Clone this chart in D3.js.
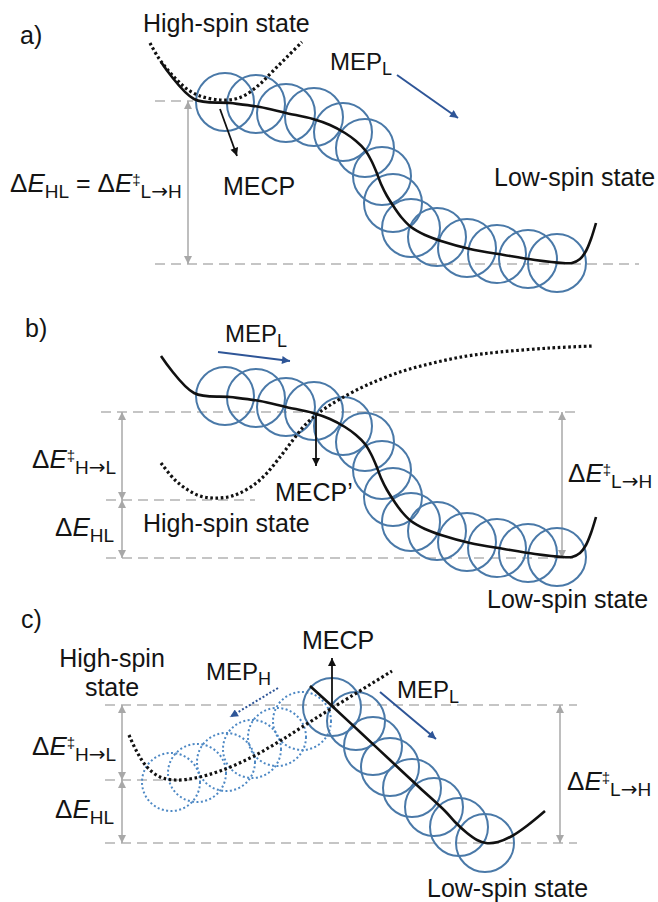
<!DOCTYPE html>
<html>
<head>
<meta charset="utf-8">
<script src="https://cdn.jsdelivr.net/npm/d3@7/dist/d3.min.js"></script>
<style>
  html, body { margin: 0; padding: 0; background: #fff; }
  svg text { font-family: "Liberation Sans", Arial, Helvetica, sans-serif; fill: #141414; }
</style>
</head>
<body>
<svg id="fig" width="658" height="902"></svg>
<script>
// ---- potential energy profiles: [reaction coordinate, energy] ----
// low-spin surface for panels a) and b)
const lowSpinAB = [[61,202],[94,165],[130,161],[160,157],[186,151],[213,145],[230,139],[245,131],
  [256,123],[265,114],[271,104],[276,93],[281,80],[287,68],[294,57],[302,46],[311,37],[325,29],
  [341,23],[370,15],[404,9],[435,4],[463,1],[472,1],[480,5],[486,13],[491,25],[496,41]];
// high-spin surfaces
const highSpinA = [[50,221],[58,207],[67,195],[77,184],[87,175],[100,168],[120,164],[135,165],
  [147,170],[160,180],[173,193],[187,207],[202,222]];
const highSpinB = [[61,95],[75,78],[88,68],[100,62],[113,60],[128,61],[140,65],[155,74],[167,85],
  [180,101],[193,118],[205,133],[220,146],[240,159],[267,173],[300,186],[333,195],[367,202],
  [400,206],[450,210],[493,212]];
const lowSpinC = [[210,157],[232,137],[260,111],[290,83],[320,55],[345,32],[355,21],[367,10],
  [377,3],[386,0],[398,1],[412,7],[428,18],[445,32]];
const highSpinC = [[29,108],[37,91],[47,76],[60,66],[75,63],[95,65],[120,72],[150,85],[180,102],
  [213,123],[250,146],[292,172]];

// sampled geometries along the minimum energy paths
const mepAB = [[125,162],[156,160],[186,151],[214,147],[243,132],[265,116],[282,88],[293,61],
  [311,36],[337,27],[367,16],[397,10],[428,5],[457,1]];
const mepLC = [[232,136],[256,122],[273,97],[290,76],[312,55],[334,36],[359,16],[385,0]];
const mepHC = [[71,61],[97,70],[126,81],[152,94],[177,106],[202,122]];

// energy levels (reaction-coordinate span, energy)
const levelsA = [[55,93,163],[55,539,0]];
const levelsB = [[1,475,146],[6,155,58],[6,473,0]];
const levelsC = [[5,477,138],[5,90,63],[5,477,0]];

// energy gaps drawn as double arrows: [coordinate, E from, E to]
const gapsA = [[88,163,0]];
const gapsB = [[22,146,58],[22,58,0],[462,146,0]];
const gapsC = [[22,138,63],[22,63,0],[460,138,0]];

// direction arrows: [q1, E1, q2, E2]
const mepArrowA = [297,189,358,146];
const mecpArrowA = [120,155,137,108];
const mepArrowB = [118,206,190,197];
const mecpArrowB = [216,145,216,92];
const mepLArrowC = [280,151,336,104];
const mepHArrowC = [178,155,130,126];
const mecpArrowC = [232,138,232,185];

// ---- scales ----
const x = d3.scaleLinear().domain([0, 540]).range([100, 640]);
const energyScale = base => d3.scaleLinear().domain([0, 200]).range([base, base - 200]);
const yA = energyScale(264), yB = energyScale(558), yC = energyScale(843);

const svg = d3.select("#fig");
const COL = {
  circle: "#4a79a8", circleDot: "#4d88c4", arrowBlue: "#2e5597",
  gray: "#b3b3b3", grayArrow: "#a8a8a8", ink: "#111"
};

// arrowhead markers
const defs = svg.append("defs");
function marker(id, color, w, h) {
  defs.append("marker").attr("id", id)
    .attr("viewBox", "0 0 10 10").attr("refX", 10).attr("refY", 5)
    .attr("markerUnits", "userSpaceOnUse").attr("markerWidth", w).attr("markerHeight", h)
    .attr("orient", "auto-start-reverse")
    .append("path").attr("d", "M0,0 L10,5 L0,10 Z").attr("fill", color);
}
marker("hBlack", COL.ink, 9, 8);
marker("hBlue", COL.arrowBlue, 10, 8);
marker("hGray", COL.grayArrow, 9, 8);

function lineGen(y, curve) {
  return d3.line().x(d => x(d[0])).y(d => y(d[1])).curve(curve || d3.curveCatmullRom.alpha(0.5));
}

function drawLevels(g, y, levels) {
  g.selectAll(null).data(levels).join("line")
    .attr("x1", d => x(d[0])).attr("x2", d => x(d[1]))
    .attr("y1", d => y(d[2])).attr("y2", d => y(d[2]))
    .attr("stroke", COL.gray).attr("stroke-width", 1.6).attr("stroke-dasharray", "10,6");
}
function drawGaps(g, y, gaps) {
  g.selectAll(null).data(gaps).join("line")
    .attr("x1", d => x(d[0])).attr("x2", d => x(d[0]))
    .attr("y1", d => y(d[1])).attr("y2", d => y(d[2]))
    .attr("stroke", COL.grayArrow).attr("stroke-width", 1.5)
    .attr("marker-start", "url(#hGray)").attr("marker-end", "url(#hGray)");
}
function drawCircles(g, y, pts, dotted) {
  g.selectAll(null).data(pts).join("circle")
    .attr("cx", d => x(d[0])).attr("cy", d => y(d[1]))
    .attr("r", x(29) - x(0))
    .attr("fill", "none")
    .attr("stroke", dotted ? COL.circleDot : COL.circle)
    .attr("stroke-width", 2)
    .attr("stroke-dasharray", dotted ? "2,2.4" : null);
}
function drawSolid(g, y, pts) {
  g.append("path").attr("d", lineGen(y)(pts))
    .attr("fill", "none").attr("stroke", COL.ink).attr("stroke-width", 2.6);
}
function drawDotted(g, y, pts) {
  g.append("path").attr("d", lineGen(y)(pts))
    .attr("fill", "none").attr("stroke", COL.ink).attr("stroke-width", 3.2)
    .attr("stroke-dasharray", "2.6,2.6");
}
function drawArrow(g, y, a, color, head, dashed) {
  g.append("line")
    .attr("x1", x(a[0])).attr("y1", y(a[1])).attr("x2", x(a[2])).attr("y2", y(a[3]))
    .attr("stroke", color).attr("stroke-width", color === COL.ink ? 1.8 : 2)
    .attr("stroke-dasharray", dashed ? "2,2" : null)
    .attr("marker-end", `url(#${head})`);
}

// plain label
function label(g, y, q, e, str, opts = {}) {
  return g.append("text").attr("x", x(q)).attr("y", y(e))
    .attr("font-size", opts.size || 25)
    .attr("text-anchor", opts.anchor || "start")
    .text(str);
}
// label with subscript, e.g. MEP_L
function labelSub(g, y, q, e, main, sub) {
  const t = g.append("text").attr("x", x(q)).attr("y", y(e)).attr("font-size", 24);
  t.append("tspan").text(main);
  t.append("tspan").attr("y", y(e) + 5).attr("font-size", 18).text(sub);
  return t;
}
// subscript text; the transition arrow is set in a font with a long thin arrow
function subscript(t, yy, sub) {
  sub.split(/(→)/).filter(s => s.length).forEach(part => {
    const ts = t.append("tspan").attr("y", yy).attr("font-size", 19).text(part);
    if (part === "→") ts.attr("font-family", "'DejaVu Sans', sans-serif").attr("font-size", 20);
  });
}
// ΔE with optional double-dagger and subscript
function deltaE(t, yBase, dagger, sub) {
  t.append("tspan").attr("y", yBase).attr("font-size", 26).text("Δ");
  t.append("tspan").attr("y", yBase).attr("font-size", 26).attr("font-style", "italic").text("E");
  if (dagger) t.append("tspan").attr("y", yBase - 7).attr("font-size", 15).text("‡");
  subscript(t, yBase + 6, sub);
}
function energyLabel(g, y, q, e, dagger, sub) {
  const t = g.append("text").attr("x", x(q)).attr("y", y(e));
  deltaE(t, y(e), dagger, sub);
  return t;
}

// ================= panel a) =================
const gA = svg.append("g");
drawLevels(gA, yA, levelsA);
drawGaps(gA, yA, gapsA);
drawCircles(gA, yA, mepAB);
drawDotted(gA, yA, highSpinA);
drawSolid(gA, yA, lowSpinAB);
drawArrow(gA, yA, mepArrowA, COL.arrowBlue, "hBlue");
drawArrow(gA, yA, mecpArrowA, COL.ink, "hBlack");
label(gA, yA, -80, 220, "a)");
label(gA, yA, 43, 232, "High-spin state");
labelSub(gA, yA, 230, 194, "MEP", "L");
label(gA, yA, 123, 69, "MECP");
label(gA, yA, 394, 78, "Low-spin state");
{
  const yb = yA(72);
  const t = gA.append("text").attr("x", x(-90)).attr("y", yb);
  deltaE(t, yb, false, "HL");
  t.append("tspan").attr("y", yb).attr("font-size", 25).text(" = ");
  deltaE(t, yb, true, "L→H");
}

// ================= panel b) =================
const gB = svg.append("g");
drawLevels(gB, yB, levelsB);
drawGaps(gB, yB, gapsB);
drawCircles(gB, yB, mepAB);
drawDotted(gB, yB, highSpinB);
drawSolid(gB, yB, lowSpinAB);
drawArrow(gB, yB, mepArrowB, COL.arrowBlue, "hBlue");
drawArrow(gB, yB, mecpArrowB, COL.ink, "hBlack");
label(gB, yB, -75, 221, "b)");
labelSub(gB, yB, 125, 216, "MEP", "L");
label(gB, yB, 175, 57, "MECP’");
label(gB, yB, 43, 26, "High-spin state");
label(gB, yB, 387, -50, "Low-spin state");
energyLabel(gB, yB, -68, 90, true, "H→L");
energyLabel(gB, yB, -45, 22, false, "HL");
energyLabel(gB, yB, 468, 76, true, "L→H");

// ================= panel c) =================
const gC = svg.append("g");
drawLevels(gC, yC, levelsC);
drawGaps(gC, yC, gapsC);
drawCircles(gC, yC, mepHC, true);
drawCircles(gC, yC, mepLC);
drawDotted(gC, yC, highSpinC);
drawSolid(gC, yC, lowSpinC);
drawArrow(gC, yC, mepLArrowC, COL.arrowBlue, "hBlue");
drawArrow(gC, yC, mepHArrowC, COL.arrowBlue, "hBlue", true);
drawArrow(gC, yC, mecpArrowC, COL.ink, "hBlack");
label(gC, yC, -79, 215, "c)");
label(gC, yC, 12, 176, "High-spin", { anchor: "middle" });
label(gC, yC, 12, 147, "state", { anchor: "middle" });
labelSub(gC, yC, 106, 163, "MEP", "H");
label(gC, yC, 202, 194, "MECP");
labelSub(gC, yC, 297, 145, "MEP", "L");
label(gC, yC, 327, -54, "Low-spin state");
energyLabel(gC, yC, -68, 88, true, "H→L");
energyLabel(gC, yC, -45, 25, false, "HL");
energyLabel(gC, yC, 467, 53, true, "L→H");
</script>
</body>
</html>
